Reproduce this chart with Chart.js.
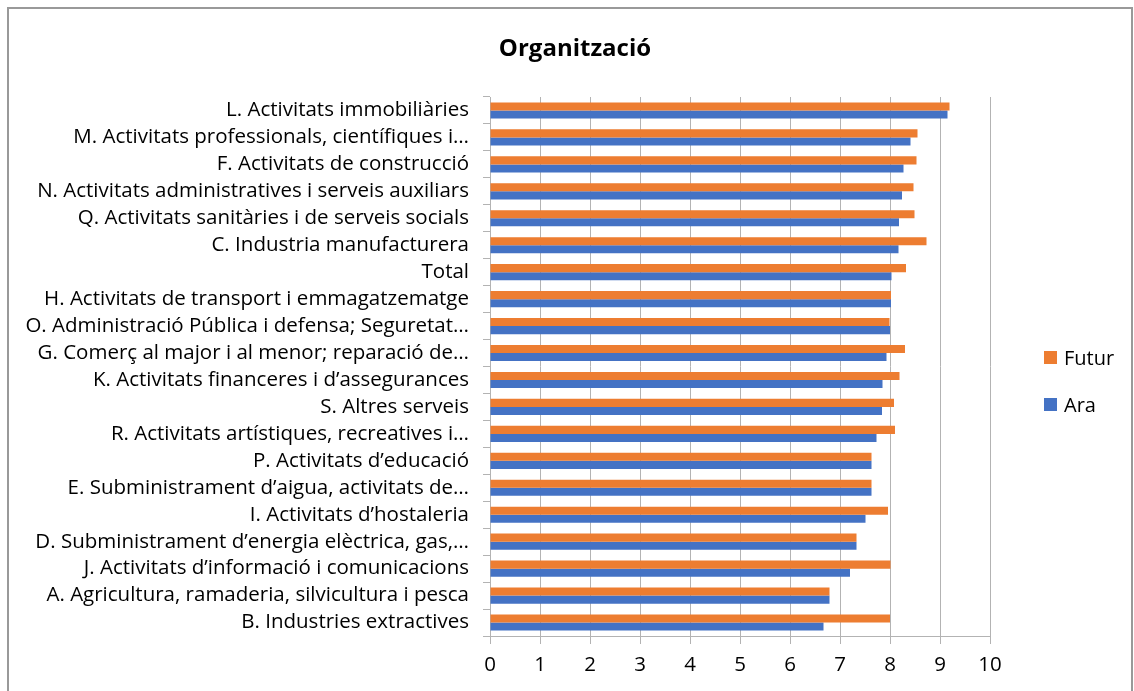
<!DOCTYPE html>
<html>
<head>
<meta charset="utf-8">
<script src="https://cdn.jsdelivr.net/npm/chart.js@4.4.1/dist/chart.umd.min.js"></script>
<style>
    body { margin: 0; background: #fff; }
    #wrap { position: relative; width: 1134px; height: 691px; overflow: hidden; font-family: "Open Sans", sans-serif; }
    #frame { position: absolute; left: 7px; top: 7px; width: 1126px; height: 700px; border: 2px solid #999; box-sizing: border-box; pointer-events: none; }
    #title { position: absolute; left: 475px; width: 200px; top: 31px; text-align: center; font-size: 24px; font-weight: bold; line-height: 32px; color: #000; }
    #legend { position: absolute; left: 1044px; top: 342px; }
    .lg-item { display: flex; align-items: center; height: 30px; margin-bottom: 17px; font-size: 20px; color: #000; }
    .lg-box { width: 13px; height: 13px; margin-right: 7px; }
</style>
</head>
<body>
<div id="wrap">
    <canvas id="chart" width="1134" height="691"></canvas>
    <div id="frame"></div>
    <div id="title">Organització</div>
    <div id="legend"></div>
</div>
<script>
// categories, top to bottom
var categories = [
    'L. Activitats immobiliàries',
    'M. Activitats professionals, científiques i…',
    'F. Activitats de construcció',
    'N. Activitats administratives i serveis auxiliars',
    'Q. Activitats sanitàries i de serveis socials',
    'C. Industria manufacturera',
    'Total',
    'H. Activitats de transport i emmagatzematge',
    'O. Administració Pública i defensa; Seguretat…',
    'G. Comerç al major i al menor; reparació de…',
    'K. Activitats financeres i d’assegurances',
    'S. Altres serveis',
    'R. Activitats artístiques, recreatives i…',
    'P. Activitats d’educació',
    'E. Subministrament d’aigua, activitats de…',
    'I. Activitats d’hostaleria',
    'D. Subministrament d’energia elèctrica, gas,…',
    'J. Activitats d’informació i comunicacions',
    'A. Agricultura, ramaderia, silvicultura i pesca',
    'B. Industries extractives'
];
var futur = [9.19, 8.55, 8.53, 8.47, 8.49, 8.73, 8.32, 8.02, 7.99, 8.30,
    8.19, 8.08, 8.10, 7.63, 7.63, 7.96, 7.33, 8.01, 6.79, 8.00];
var ara = [9.15, 8.41, 8.27, 8.24, 8.18, 8.17, 8.03, 8.02, 8.00, 7.93,
    7.85, 7.84, 7.73, 7.63, 7.63, 7.51, 7.33, 7.20, 6.79, 6.67];
var seriesNames = ['Futur', 'Ara'];
var seriesColors = ['#ED7D31', '#4472C4'];
var xTicks = [0, 1, 2, 3, 4, 5, 6, 7, 8, 9, 10];

var gridColor = '#b3b3b3';
var plotLeft = 490;
var padLeft = 10;

var ctx = document.getElementById('chart').getContext('2d');
var chart = new Chart(ctx, {
    type: 'bar',
    data: {
        labels: categories,
        datasets: [{
            label: seriesNames[0],
            data: futur,
            backgroundColor: seriesColors[0]
        }, {
            label: seriesNames[1],
            data: ara,
            backgroundColor: seriesColors[1]
        }]
    },
    options: {
        indexAxis: 'y',
        responsive: false,
        animation: false,
        categoryPercentage: 0.6,
        barPercentage: 1.0,
        layout: {
            padding: {left: padLeft, right: 144, top: 97, bottom: 14}
        },
        plugins: {
            legend: {display: false},
            tooltip: {enabled: false}
        },
        scales: {
            x: {
                min: 0,
                max: 10,
                afterBuildTicks: function(scale) {
                    scale.ticks = xTicks.map(function(v) { return {value: v}; });
                },
                afterFit: function(scale) {
                    scale.height = 41;
                },
                grid: {color: gridColor, lineWidth: 1, tickLength: 8},
                border: {color: gridColor},
                ticks: {
                    color: '#000',
                    padding: 9,
                    maxRotation: 0,
                    font: {family: '"Open Sans"', size: 20.5}
                }
            },
            y: {
                afterFit: function(scale) {
                    scale.width = plotLeft - padLeft;
                },
                grid: {color: gridColor, drawOnChartArea: false, tickLength: 7},
                border: {color: gridColor},
                ticks: {
                    color: '#000',
                    padding: 14,
                    autoSkip: false,
                    font: {family: '"Open Sans"', size: 20.5}
                }
            }
        }
    }
});

// html legend built from the chart datasets
function buildLegend(chartObj) {
    var box = document.getElementById('legend');
    chartObj.data.datasets.forEach(function(ds) {
        var item = document.createElement('div');
        item.className = 'lg-item';
        var sw = document.createElement('span');
        sw.className = 'lg-box';
        sw.style.background = ds.backgroundColor;
        var txt = document.createElement('span');
        txt.textContent = ds.label;
        item.appendChild(sw);
        item.appendChild(txt);
        box.appendChild(item);
    });
}
buildLegend(chart);
</script>
</body>
</html>
